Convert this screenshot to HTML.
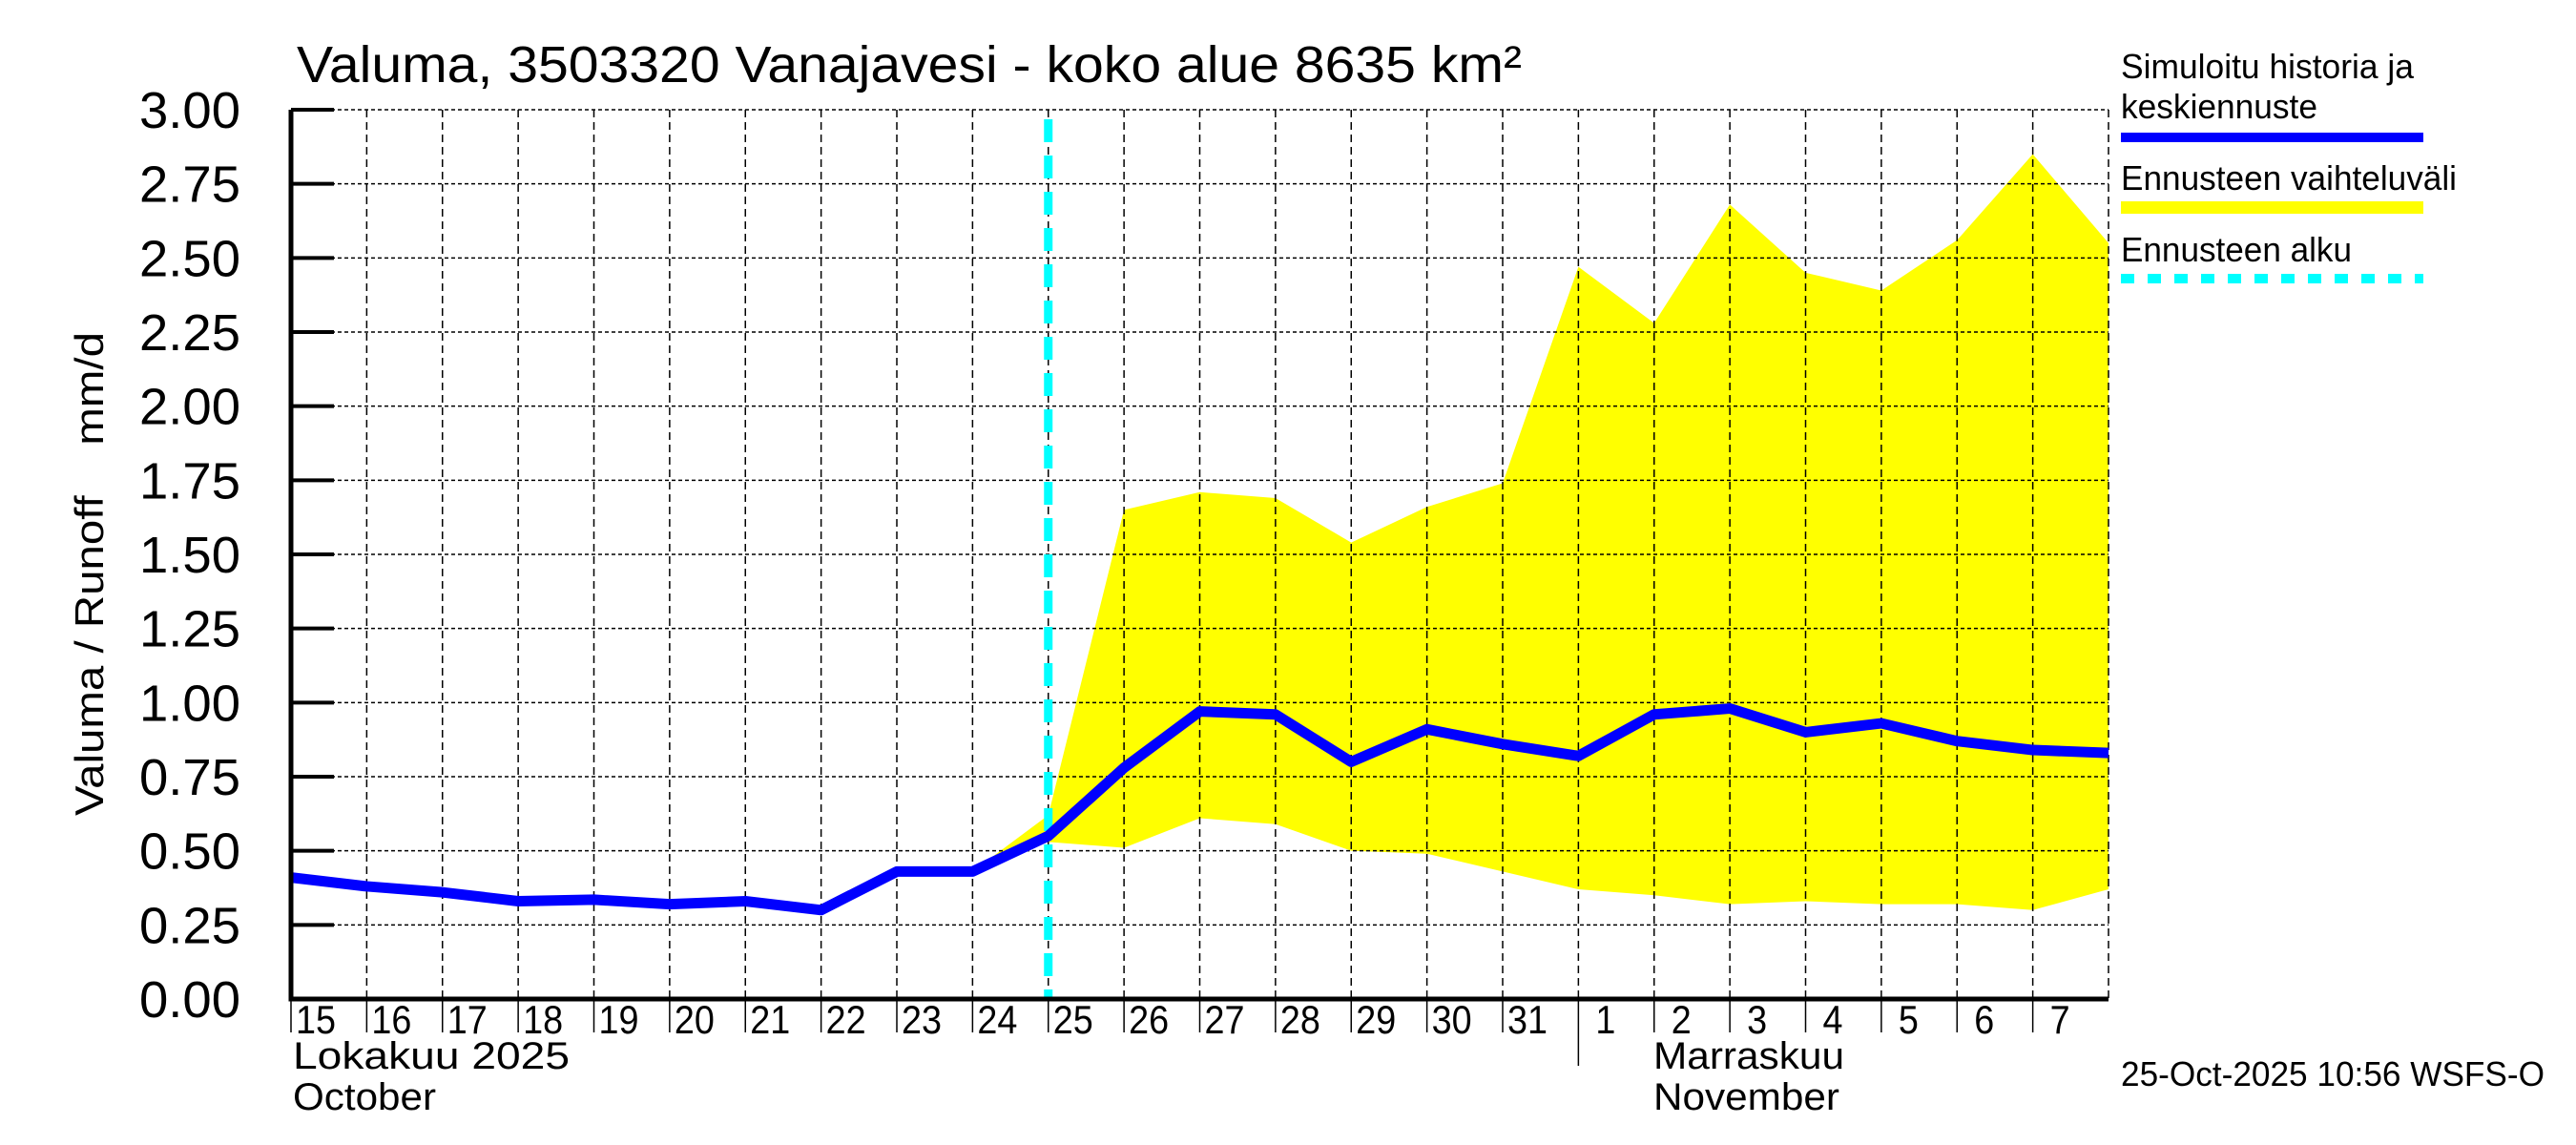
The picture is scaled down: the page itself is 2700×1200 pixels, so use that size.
<!DOCTYPE html>
<html><head><meta charset="utf-8"><style>html,body{margin:0;padding:0;background:#fff}svg{display:block}</style></head>
<body>
<svg id="chart" xmlns="http://www.w3.org/2000/svg" width="2700" height="1200" font-family="Liberation Sans, sans-serif">
<rect width="2700" height="1200" fill="#fff"/>
<g id="grid"></g>
<g id="marks"></g>
<g id="axes"></g>
<text x="311" y="86" font-size="54" textLength="1284" lengthAdjust="spacingAndGlyphs">Valuma, 3503320 Vanajavesi - koko alue 8635 km²</text>
<text transform="translate(108,855) rotate(-90)" font-size="42" textLength="507" lengthAdjust="spacingAndGlyphs" xml:space="preserve">Valuma / Runoff    mm/d</text>
<text x="307" y="1120" font-size="40" textLength="290" lengthAdjust="spacingAndGlyphs">Lokakuu  2025</text>
<text x="307" y="1163" font-size="40" textLength="150" lengthAdjust="spacingAndGlyphs">October</text>
<text x="1733" y="1120" font-size="40" textLength="200" lengthAdjust="spacingAndGlyphs">Marraskuu</text>
<text x="1733" y="1163" font-size="40" textLength="195" lengthAdjust="spacingAndGlyphs">November</text>
<text x="2223" y="1138" font-size="36" textLength="444" lengthAdjust="spacingAndGlyphs">25-Oct-2025 10:56 WSFS-O</text>
<g>
<text x="2223" y="82" font-size="36" textLength="307" lengthAdjust="spacingAndGlyphs">Simuloitu historia ja</text>
<text x="2223" y="124" font-size="36" textLength="206" lengthAdjust="spacingAndGlyphs">keskiennuste</text>
<rect x="2223" y="139" width="317" height="10" fill="#0000ff"/>
<text x="2223" y="199" font-size="36" textLength="352" lengthAdjust="spacingAndGlyphs">Ennusteen vaihteluväli</text>
<rect x="2223" y="211" width="317" height="13" fill="#ffff00"/>
<text x="2223" y="274" font-size="36" textLength="242" lengthAdjust="spacingAndGlyphs">Ennusteen alku</text>
<line x1="2223" y1="292" x2="2540" y2="292" stroke="#00ffff" stroke-width="10" stroke-dasharray="14 14"/>
</g>
</svg>
<script>
const dayLabels = ["15","16","17","18","19","20","21","22","23","24","25","26","27","28","29","30","31","1","2","3","4","5","6","7"];
const runoff = [0.41,0.38,0.36,0.33,0.335,0.32,0.33,0.30,0.43,0.43,0.55,0.78,0.97,0.96,0.80,0.91,0.86,0.82,0.96,0.98,0.90,0.93,0.87,0.84,0.83];
const rangeStartDay = 9;
const rangeUpper = [0.43,0.62,1.65,1.71,1.69,1.54,1.66,1.74,2.47,2.28,2.68,2.45,2.39,2.56,2.85,2.55];
const rangeLower = [0.43,0.53,0.51,0.61,0.59,0.50,0.49,0.43,0.37,0.35,0.32,0.33,0.32,0.32,0.30,0.37];
const yTicks = [0,0.25,0.5,0.75,1.0,1.25,1.5,1.75,2.0,2.25,2.5,2.75,3.0];
const forecastStartDay = 10;
const monthBoundaryDay = 17;

const NS="http://www.w3.org/2000/svg";
const X0=305,X1=2210,Y0=1047,Y1=115,NDAYS=24;
const xs=d=>X0+d*(X1-X0)/NDAYS;
const ys=v=>Y0-v*(Y0-Y1)/3;
function mk(tag,attrs,parent){const e=document.createElementNS(NS,tag);for(const k in attrs)e.setAttribute(k,attrs[k]);parent.appendChild(e);return e;}
const grid=document.getElementById('grid'),marks=document.getElementById('marks'),axes=document.getElementById('axes');

// range band
let pts=[];
rangeUpper.forEach((v,i)=>pts.push(xs(rangeStartDay+i)+','+ys(v)));
for(let i=rangeLower.length-1;i>=0;i--)pts.push(xs(rangeStartDay+i)+','+ys(rangeLower[i]));
const band=mk('polygon',{points:pts.join(' '),fill:'#ffff00'},grid);



yTicks.forEach((t,i)=>{
  const g=mk('line',{x1:X0,x2:X1,y1:ys(t),y2:ys(t),stroke:'#000','stroke-width':1.5,'stroke-dasharray':'4 3'},grid);
  
  
  const tk=mk('line',{x1:X0,x2:X0+45,y1:ys(t),y2:ys(t),stroke:'#000','stroke-width':4},axes);
  
  
  const lb=mk('text',{x:252,y:ys(t)+19,'font-size':54,'text-anchor':'end',textLength:106,lengthAdjust:'spacingAndGlyphs'},axes);
  lb.textContent=t.toFixed(2);
  
  
});
for(let d=0;d<=NDAYS;d++){
  const g=mk('line',{x1:xs(d),x2:xs(d),y1:Y1,y2:Y0,stroke:'#000','stroke-width':1.5,'stroke-dasharray':'8 5'},grid);
  
  
}
dayLabels.forEach((l,d)=>{
  const tk=mk('line',{x1:xs(d),x2:xs(d),y1:Y0,y2:d===monthBoundaryDay?1117:1082,stroke:'#000','stroke-width':1.5},axes);
  
  
  const t=mk('text',{x:xs(d)+(l.length>1?5:18),y:1083,'font-size':42,textLength:l.length*21,lengthAdjust:'spacingAndGlyphs'},axes);
  t.textContent=l;
  
  
});
const fl=mk('line',{x1:xs(forecastStartDay),x2:xs(forecastStartDay),y1:125,y2:Y0,stroke:'#00ffff','stroke-width':9,'stroke-dasharray':'24 14'},marks);


const line=mk('polyline',{points:runoff.map((v,d)=>xs(d)+','+ys(v)).join(' '),fill:'none',stroke:'#0000ff','stroke-width':11,'stroke-linejoin':'round'},marks);


const ax=mk('path',{d:`M${X0},${Y1} V${Y0} H${X1}`,fill:'none',stroke:'#000','stroke-width':5},axes);


</script>
</body></html>
